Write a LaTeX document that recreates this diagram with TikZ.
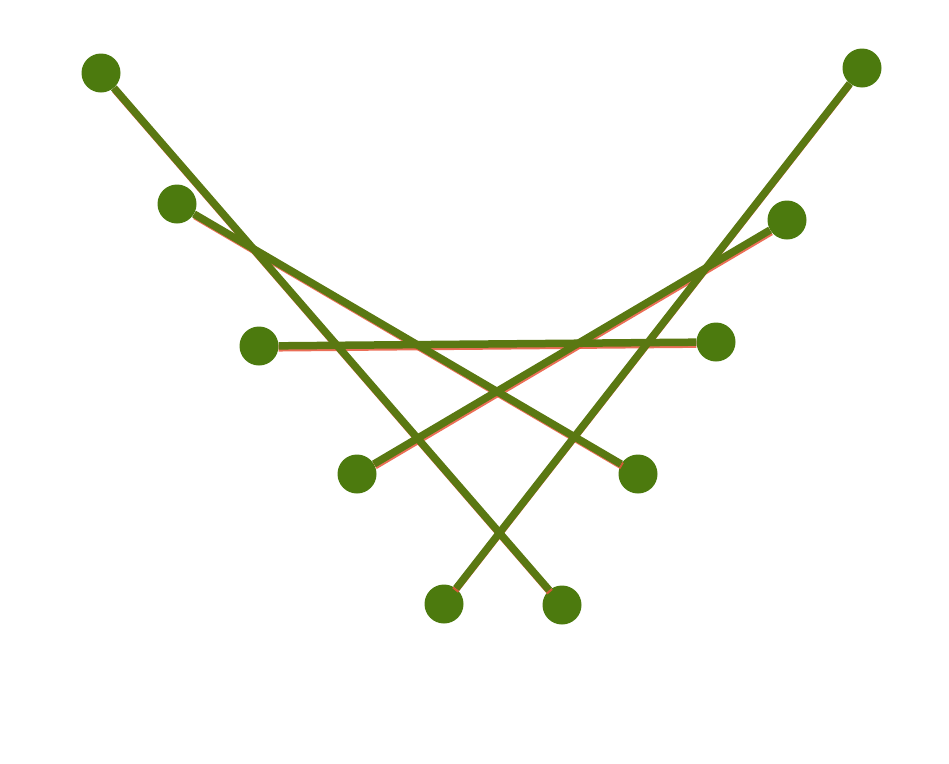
\documentclass[tikz,border=0pt]{standalone}
\usepackage{xcolor}
\usepackage{tikz}
\definecolor{Leaf}{HTML}{4C7A0E}
\definecolor{Olive}{HTML}{5A7812}
\definecolor{Rim}{HTML}{E8553A}

\begin{document}
\begin{tikzpicture}[x=1pt,y=-1pt]
\tikzset{dot/.style={circle,fill=Leaf,minimum size=39pt,inner sep=0pt}, link/.style={Olive,line width=7.5pt}, rim/.style={Rim,line width=7pt,opacity=0.85}}
\useasboundingbox (0,0) rectangle (949,763);
\node[dot] (l1) at (101,73) {};
\node[dot] (l2) at (177,204) {};
\node[dot] (l3) at (259,346) {};
\node[dot] (l4) at (357,474) {};
\node[dot] (l5) at (444,604) {};
\node[dot] (r5) at (562,605) {};
\node[dot] (r4) at (638,474) {};
\node[dot] (r3) at (716,342) {};
\node[dot] (r2) at (787,220) {};
\node[dot] (r1) at (862,68) {};
\draw[rim,transform canvas={shift={(1pt,-2pt)}}] (l1) -- (r5);
\draw[rim,transform canvas={shift={(1pt,-2pt)}}] (l2) -- (r4);
\draw[rim,transform canvas={shift={(0pt,-2.2pt)}}] (l3) -- (r3);
\draw[rim,transform canvas={shift={(1pt,-2pt)}}] (l4) -- (r2);
\draw[rim,transform canvas={shift={(-1pt,-2pt)}}] (l5) -- (r1);
\draw[link] (l1) -- (r5);
\draw[link] (l2) -- (r4);
\draw[link] (l3) -- (r3);
\draw[link] (l4) -- (r2);
\draw[link] (l5) -- (r1);
\end{tikzpicture}
\end{document}
